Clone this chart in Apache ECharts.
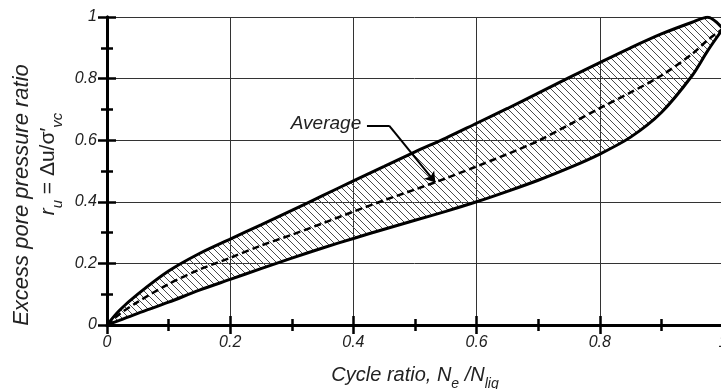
<!DOCTYPE html>
<html>
<head>
<meta charset="utf-8">
<script src="https://cdn.jsdelivr.net/npm/echarts@6/dist/echarts.min.js"></script>
<style>html,body{margin:0;padding:0;background:#fff}#c{width:721px;height:389px}</style>
</head>
<body>
<div id="c"></div>
<script>
// Cycle ratio values (x) shared by all curves
const xs      = [0, 0.02, 0.05, 0.1, 0.15, 0.2, 0.25, 0.3, 0.35, 0.4, 0.45, 0.5, 0.55, 0.6, 0.65, 0.7, 0.75, 0.8, 0.85, 0.9, 0.95, 0.975, 1.0];
// Upper bound of excess pore pressure ratio
const upper   = [0, 0.047, 0.10, 0.175, 0.232, 0.279, 0.325, 0.372, 0.42, 0.468, 0.515, 0.562, 0.607, 0.655, 0.703, 0.753, 0.803, 0.852, 0.90, 0.945, 0.983, 0.999, 0.962];
// Lower bound
const lower   = [0, 0.015, 0.038, 0.074, 0.113, 0.148, 0.183, 0.217, 0.25, 0.281, 0.311, 0.340, 0.369, 0.40, 0.434, 0.47, 0.51, 0.555, 0.61, 0.69, 0.81, 0.89, 0.962];
// Average curve
const average = [0, 0.035, 0.075, 0.133, 0.18, 0.218, 0.258, 0.293, 0.33, 0.368, 0.405, 0.44, 0.476, 0.515, 0.555, 0.598, 0.65, 0.704, 0.755, 0.81, 0.88, 0.925, 0.962];
// Tick labels
const xTickLabels = ['0', '0.2', '0.4', '0.6', '0.8', '1'];
const yTickLabels = ['0', '0.2', '0.4', '0.6', '0.8', '1'];
const tickStep = 0.2;

function hatchPattern() {
  const c = document.createElement('canvas');
  c.width = 7; c.height = 7;
  const g = c.getContext('2d');
  g.strokeStyle = '#4a4a4a';
  g.lineWidth = 1;
  g.beginPath();
  g.moveTo(-1, -1); g.lineTo(8, 8);
  g.moveTo(-1, 6); g.lineTo(1, 8);
  g.moveTo(6, -1); g.lineTo(8, 1);
  g.stroke();
  return c;
}
const PATTERN = hatchPattern();

const FONT = '"Liberation Sans", Arial, sans-serif';
const labelFmt = (arr) => (v) => arr[Math.round(v / tickStep)] ?? '';

const chart = echarts.init(document.getElementById('c'), null, {renderer: 'canvas'});

const baseAxis = {
  type: 'value', min: 0, max: 1, interval: tickStep,
  axisLine: {show: true, lineStyle: {color: '#000', width: 3}},
  axisTick: {show: true, inside: true, length: 9, lineStyle: {color: '#000', width: 2.5}},
  minorTick: {show: true, splitNumber: 2, length: 6, lineStyle: {color: '#000', width: 2.5}},
  splitLine: {show: true, lineStyle: {color: '#333', width: 1}},
  minorSplitLine: {show: false}
};

const smooth = 0.3;

chart.setOption({
  animation: false,
  backgroundColor: '#fff',
  grid: {left: 107, top: 17, width: 616, height: 308, containLabel: false, outerBoundsMode: 'none'},
  xAxis: [
    Object.assign({}, baseAxis, {
      position: 'bottom',
      axisLabel: {formatter: labelFmt(xTickLabels), fontStyle: 'italic', fontSize: 16, color: '#222', margin: 10, fontFamily: FONT},
      name: '{t|Cycle ratio, N}{s|e}{t| /N}{s|liq}',
      nameLocation: 'middle', nameGap: 40,
      nameTextStyle: {
        rich: {
          t: {fontStyle: 'italic', fontSize: 20, color: '#222', fontFamily: FONT, lineHeight: 24, verticalAlign: 'top'},
          s: {fontStyle: 'italic', fontSize: 14, color: '#222', fontFamily: FONT, lineHeight: 14, padding: [12, 0, 0, 0], verticalAlign: 'top'}
        }
      }
    }),
    Object.assign({}, baseAxis, {position: 'top', splitLine: {show: false}, axisLabel: {show: false}})
  ],
  yAxis: [
    Object.assign({}, baseAxis, {
      position: 'left',
      axisLabel: {formatter: labelFmt(yTickLabels), fontStyle: 'italic', fontSize: 16, color: '#222', margin: 10, fontFamily: FONT}
    }),
    Object.assign({}, baseAxis, {position: 'right', splitLine: {show: false}, axisLabel: {show: false}})
  ],
  series: [
    {
      // hatched band between the upper and lower bounds
      type: 'custom', coordinateSystem: 'cartesian2d', silent: true, z: 1,
      data: [[0, 0]],
      renderItem: function (params, api) {
        const pts = [];
        for (let i = 0; i < xs.length; i++) pts.push(api.coord([xs[i], upper[i]]));
        for (let i = xs.length - 1; i >= 0; i--) pts.push(api.coord([xs[i], lower[i]]));
        return {
          type: 'polygon',
          shape: {points: pts},
          style: {fill: {image: PATTERN, repeat: 'repeat'}, stroke: null},
          silent: true
        };
      }
    },
    {
      type: 'line', symbol: 'none', smooth: smooth, silent: true, z: 3,
      data: xs.map((x, i) => [x, upper[i]]),
      lineStyle: {color: '#000', width: 3}
    },
    {
      type: 'line', symbol: 'none', smooth: smooth, silent: true, z: 3,
      data: xs.map((x, i) => [x, lower[i]]),
      lineStyle: {color: '#000', width: 3}
    },
    {
      type: 'line', symbol: 'none', smooth: smooth, silent: true, z: 3,
      data: xs.map((x, i) => [x, average[i]]),
      lineStyle: {color: '#000', width: 2.5, type: [7, 4]},
      markLine: {
        silent: true, symbolSize: 10, animation: false,
        label: {show: false},
        lineStyle: {color: '#000', width: 2, type: 'solid'},
        data: [
          [{coord: [0.422, 0.647], symbol: 'none'}, {coord: [0.458, 0.647], symbol: 'none'}],
          [{coord: [0.458, 0.647], symbol: 'none'}, {coord: [0.533, 0.463], symbol: 'arrow'}]
        ]
      }
    }
  ],
  graphic: [
    {
      type: 'text', x: 22, y: 195, rotation: Math.PI / 2,
      style: {text: 'Excess pore pressure ratio', font: 'italic 22px ' + FONT, fill: '#222', align: 'center', verticalAlign: 'middle'}
    },
    {
      type: 'text', x: 50, y: 164, rotation: Math.PI / 2,
      style: {
        text: '{t|r}{s|u}{n| = Δu/σ\u2032}{s|vc}',
        align: 'center', verticalAlign: 'middle',
        rich: {
          t: {font: 'italic 21px ' + FONT, fill: '#222', lineHeight: 24, verticalAlign: 'top'},
          n: {font: '21px ' + FONT, fill: '#222', lineHeight: 24, verticalAlign: 'top'},
          s: {font: 'italic 15px ' + FONT, fill: '#222', lineHeight: 15, padding: [12, 0, 0, 0], verticalAlign: 'top'}
        }
      }
    },
    {
      type: 'text', x: 326, y: 124,
      style: {text: 'Average', font: 'italic 19px ' + FONT, fill: '#222', align: 'center', verticalAlign: 'middle'}
    }
  ]
});
</script>
</body>
</html>
